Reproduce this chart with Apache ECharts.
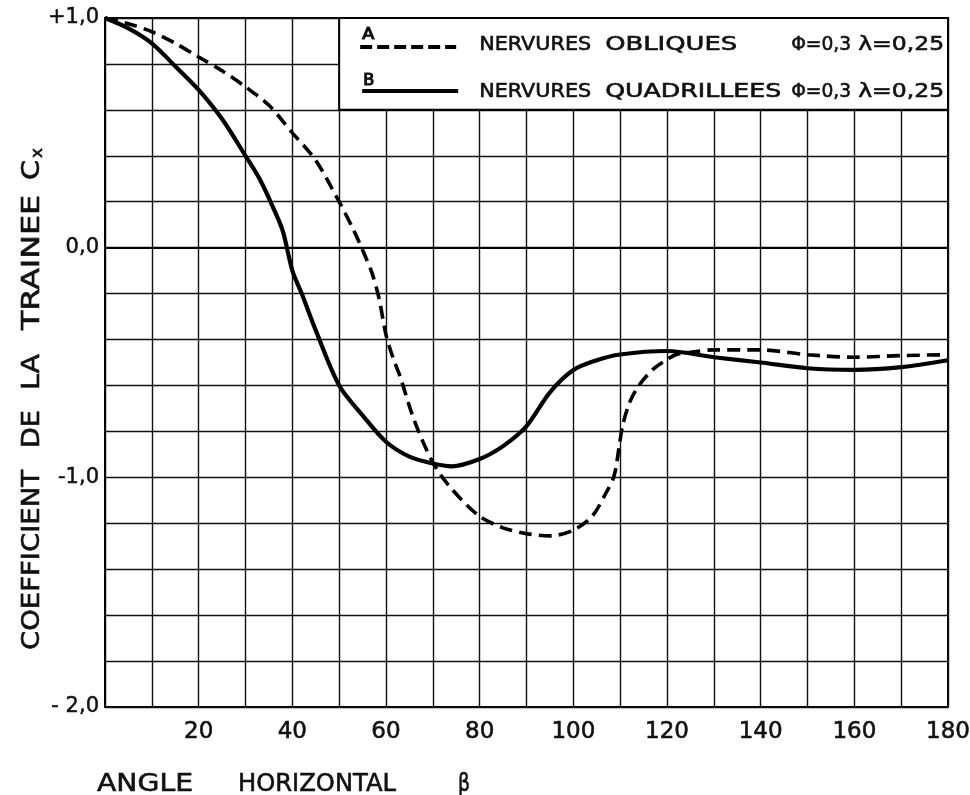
<!DOCTYPE html>
<html><head><meta charset="utf-8">
<script src="https://cdn.jsdelivr.net/npm/echarts@6/dist/echarts.min.js"></script>
<style>html,body{margin:0;padding:0;background:#fff}#c{width:970px;height:795px}</style>
</head><body><div id="c"></div>
<script>
// Series A: nervures obliques (dashed)
const anglesA = [0,5,10,15,20,25,30,35,40,45,50,53,55,57,58.5,60,61.5,63,66,70,74,80,85,90,95,100,104,107,108.7,109.8,110.5,112,114,117,120,122,125,130,140,150,160,170,180];
const cxA = [1.0,0.975,0.94,0.89,0.83,0.77,0.70,0.62,0.50,0.38,0.20,0.08,-0.01,-0.11,-0.22,-0.38,-0.48,-0.56,-0.75,-0.935,-1.05,-1.17,-1.22,-1.245,-1.255,-1.23,-1.17,-1.067,-0.994,-0.864,-0.777,-0.675,-0.60,-0.53,-0.487,-0.465,-0.455,-0.445,-0.445,-0.466,-0.477,-0.47,-0.466];
// Series B: nervures quadrillees (solid)
const anglesB = [0,5,10,15,20,25,30,33,36,38,40,42,45,50,55,60,65,70,74,80,85,90,95,100,105,110,120,130,140,150,160,170,180];
const cxB = [1.0,0.955,0.89,0.79,0.687,0.56,0.40,0.30,0.17,0.07,-0.10,-0.20,-0.36,-0.60,-0.73,-0.845,-0.91,-0.94,-0.952,-0.92,-0.864,-0.777,-0.63,-0.533,-0.49,-0.465,-0.45,-0.477,-0.50,-0.525,-0.532,-0.52,-0.49];
// Tick labels
const xTickValues = [20,40,60,80,100,120,140,160,180];
const yTickValues = [1,0,-1,-2];
const yTickTexts = ['+1,0','0,0','-1,0','- 2,0'];
const legendLetters = ['A','B'];
const legendWordsA = ['NERVURES','OBLIQUES'];
const legendWordsB = ['NERVURES','QUADRILLEES'];
const legendParams = ['\u03A6=0,3','\u03BB=0,25'];
const yTitleWords = ['COEFFICIENT','DE','LA','TRAINEE'];
const xTitleWords = ['ANGLE','HORIZONTAL','\u03B2'];

const FONT = 'DejaVu Sans';
const chart = echarts.init(document.getElementById('c'));
const zipA = anglesA.map((a,i)=>[a,cxA[i]]);
const zipB = anglesB.map((a,i)=>[a,cxB[i]]);

chart.setOption({
  animation:false,
  backgroundColor:'#fff',
  grid:{left:105,right:22,top:18,bottom:88,show:true,borderColor:'#000',borderWidth:2,containLabel:false,outerBoundsMode:'none'},
  xAxis:{type:'value',min:0,max:180,interval:10,
    axisLine:{show:true,lineStyle:{color:'#000',width:2}},
    axisTick:{show:false},
    splitLine:{show:true,lineStyle:{color:'#111',width:1.4}},
    axisLabel:{margin:14,color:'#111',fontFamily:FONT,fontSize:23,textBorderColor:'#111',textBorderWidth:0.6,
      formatter:v=>xTickValues.indexOf(Math.round(v))>=0?String(Math.round(v)):'' }},
  yAxis:{type:'value',min:-2,max:1,interval:0.2,
    axisLine:{show:true,lineStyle:{color:'#000',width:2}},
    axisTick:{show:false},
    splitLine:{show:true,lineStyle:{color:'#111',width:1.4}},
    axisLabel:{margin:6,color:'#111',fontFamily:FONT,fontSize:21,textBorderColor:'#111',textBorderWidth:0.5,
      formatter:v=>{const r=Math.round(v*10)/10;const i=yTickValues.indexOf(r);return i>=0?yTickTexts[i]:'';}}},
  series:[
    {type:'line',data:zipA,smooth:0.3,showSymbol:false,
     lineStyle:{color:'#000',width:3.6,type:[13,7]},z:5},
    {type:'line',data:zipB,smooth:0.3,showSymbol:false,
     lineStyle:{color:'#000',width:4.2},z:5}
  ]
});

// text helper: fits a word to a given extent by horizontal scaling
const mctx = document.createElement('canvas').getContext('2d');
function fit(t, x0, x1, cy, fs, opts){
  opts = opts||{};
  mctx.font = fs+'px "'+FONT+'"';
  const w = mctx.measureText(t).width;
  const s = (Math.abs(x1-x0))/w;
  const el = {type:'text',z:101,
    style:{text:t,fill:'#111',font:fs+'px "'+FONT+'"',textAlign:'center',textVerticalAlign:'middle',
      stroke:'#111',lineWidth:opts.lw==null?0.6:opts.lw}};
  if(opts.vertical){
    el.x = cy; el.y = (x0+x1)/2; el.rotation = Math.PI/2; el.scaleX = s;
  } else {
    el.x = (x0+x1)/2; el.y = cy; el.scaleX = s;
  }
  return el;
}

const p0 = chart.convertToPixel({gridIndex:0},[50,1.0]);
const p1 = chart.convertToPixel({gridIndex:0},[180,0.6]);
const bx = p0[0], by = p0[1];
const r1 = by+27, r2 = by+74;
const g = [
  {type:'rect',z:100,shape:{x:bx,y:by,width:p1[0]-bx,height:p1[1]-by},
   style:{fill:'#fff',stroke:'#000',lineWidth:2}},
  fit(legendLetters[0],bx+23,bx+35,r1-10,15,{lw:1.1}),
  {type:'line',z:101,shape:{x1:bx+21,y1:r1+2,x2:bx+117,y2:r1+2},style:{stroke:'#000',lineWidth:4,lineDash:[12,5]}},
  fit(legendLetters[1],bx+24,bx+35,r2-11,15,{lw:1.1}),
  {type:'line',z:101,shape:{x1:bx+23,y1:r2-1,x2:bx+119,y2:r2-1},style:{stroke:'#000',lineWidth:4}},
  fit(legendWordsA[0],bx+140,bx+252,r1,19),
  fit(legendWordsA[1],bx+266,bx+398,r1,19),
  fit(legendWordsB[0],bx+140,bx+252,r2,19),
  fit(legendWordsB[1],bx+266,bx+442,r2,19),
  fit(legendParams[0],bx+452,bx+512,r1,20),
  fit(legendParams[1],bx+519,bx+605,r1,20),
  fit(legendParams[0],bx+452,bx+512,r2,20),
  fit(legendParams[1],bx+519,bx+605,r2,20),
  // y-axis title (bottom-to-top)
  fit(yTitleWords[0],650,470,33,24,{vertical:true}),
  fit(yTitleWords[1],448,410,33,24,{vertical:true}),
  fit(yTitleWords[2],390,354,33,24,{vertical:true}),
  fit(yTitleWords[3],330,195,33,24,{vertical:true}),
  fit('C',180,160,33,24,{vertical:true}),
  fit('x',158,148,38,16,{vertical:true}),
  // x-axis title
  fit(xTitleWords[0],97,193,785,24),
  fit(xTitleWords[1],238,396,785,24),
  fit(xTitleWords[2],458,470,785,24)
];
chart.setOption({graphic:g});
</script></body></html>
